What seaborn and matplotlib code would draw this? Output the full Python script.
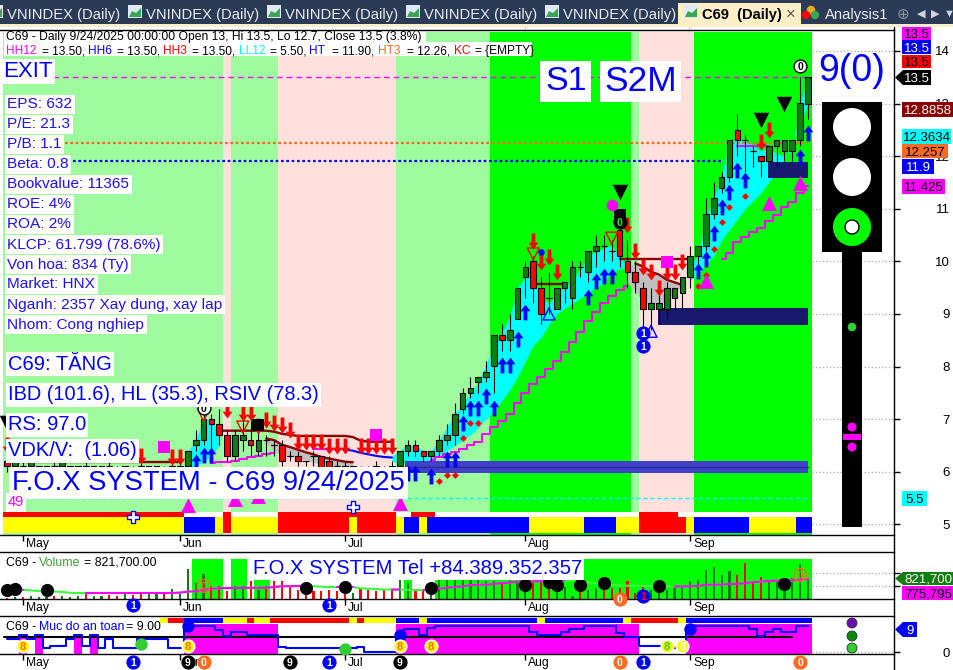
import numpy as np
import matplotlib
matplotlib.use("Agg")
import matplotlib.pyplot as plt
import seaborn as sns
from matplotlib.patches import Rectangle, Circle, Polygon
from matplotlib.path import Path
from matplotlib.transforms import ScaledTranslation

W, H = 954, 670
AXIS_X = 894
BAR0, BAR_STEP = 7.3, 7.85

GREEN = "#00ff00"
LIGHT = "#9efb9e"
PINK = "#ffe0dc"
CANDLE_UP = "#0f7d0f"
BLUE = "#0000ff"
RED = "#ff0000"
MAGENTA = "#ff00ff"
CYAN = "#00ffff"
YELLOW = "#ffff00"
DARKRED = "#8b0000"
NAVY = "#191970"
ORANGE = "#ff6a20"
COLORS = {"Y": YELLOW, "B": BLUE, "R": RED, "W": "#ffffff"}

# daily prices, bars 0-102
opens = [6.2, 6.1, 6.1, 6.1, 6.0, 6.0, 6.1, 6.1, 6.0, 6.0, 6.1, 6.0, 6.0, 6.1, 6.0, 6.0, 6.0, 6.1, 6.0, 6.0,
         6.0, 5.9, 6.0, 6.1, 6.5, 6.6, 7.0, 6.9, 6.7, 6.3, 6.6, 6.6, 6.4, 6.6, 6.5, 6.5, 6.3, 6.3, 6.2, 6.3,
         6.3, 6.2, 6.1, 6.1, 6.0, 6.0, 6.0, 6.1, 6.0, 6.1, 6.1, 6.4, 6.5, 6.4, 6.3, 6.4, 6.6, 6.7, 7.2, 7.5,
         7.7, 7.8, 8.0, 8.6, 8.5, 8.9, 9.7, 10.0, 9.5, 9.3, 9.1, 9.5, 9.3, 9.9, 9.8, 10.2, 10.3, 10.2, 10.6, 10.0,
         9.8, 9.5, 9.1, 9.1, 9.1, 9.3, 9.4, 9.7, 10.1, 10.3, 10.9, 11.4, 11.6, 12.5, 12.3, 12.1, 12.0, 11.9, 12.2, 12.1,
         12.1, 12.3, 13.0]
highs = [6.2, 6.2, 6.2, 6.2, 6.1, 6.1, 6.2, 6.2, 6.1, 6.1, 6.2, 6.1, 6.1, 6.2, 6.1, 6.1, 6.1, 6.2, 6.1, 6.1,
         6.1, 6.2, 6.2, 6.4, 6.8, 7.3, 7.1, 7.2, 6.8, 6.8, 7.1, 7.0, 6.8, 6.7, 6.6, 6.6, 6.4, 6.4, 6.2, 6.4,
         6.3, 6.3, 6.2, 6.2, 6.1, 6.1, 6.1, 6.2, 6.1, 6.2, 6.4, 6.6, 6.6, 6.4, 6.4, 6.7, 6.9, 7.3, 7.6, 7.8,
         7.8, 8.1, 8.6, 8.8, 9.0, 9.5, 10.0, 10.1, 9.7, 9.8, 9.5, 9.6, 10.0, 10.0, 10.2, 10.5, 10.5, 10.4, 10.9, 10.4,
         10.0, 9.6, 9.5, 9.5, 9.6, 9.5, 9.7, 10.3, 10.3, 11.2, 11.5, 11.7, 12.3, 12.8, 12.4, 12.2, 12.0, 12.2, 12.3, 12.3,
         12.3, 13.5, 13.5]
lows = [6.0, 6.0, 6.0, 6.0, 5.9, 5.9, 6.0, 6.0, 5.9, 5.9, 6.0, 5.9, 5.9, 6.0, 5.9, 5.9, 5.9, 6.0, 5.9, 5.9,
        5.9, 5.8, 5.9, 6.0, 6.4, 6.5, 6.4, 6.5, 6.2, 6.2, 6.4, 6.3, 6.3, 6.3, 6.3, 6.1, 6.2, 6.1, 6.1, 6.1,
        5.9, 5.9, 5.9, 5.9, 5.9, 5.9, 5.9, 5.9, 5.9, 6.0, 6.0, 6.3, 6.3, 6.2, 6.2, 6.3, 6.5, 6.5, 7.1, 7.4,
        7.5, 7.7, 7.5, 8.3, 8.3, 8.9, 9.3, 9.2, 8.8, 9.0, 9.1, 9.2, 9.1, 9.7, 9.6, 9.9, 10.0, 10.0, 9.9, 9.5,
        9.4, 8.7, 8.7, 8.8, 8.9, 9.1, 9.1, 9.5, 9.9, 10.2, 10.8, 11.3, 11.5, 12.0, 11.7, 11.8, 11.6, 11.9, 11.8, 11.9,
        11.9, 12.2, 12.7]
closes = [6.1, 6.2, 6.1, 6.2, 6.1, 6.1, 6.1, 6.2, 6.1, 6.1, 6.1, 6.1, 6.1, 6.1, 6.0, 6.1, 6.0, 6.1, 6.1, 6.1,
          6.0, 6.1, 6.1, 6.4, 6.6, 7.0, 6.9, 6.7, 6.3, 6.7, 6.7, 6.5, 6.6, 6.6, 6.5, 6.2, 6.3, 6.2, 6.2, 6.3,
          6.0, 6.0, 6.1, 6.0, 6.1, 6.0, 6.0, 6.0, 6.0, 6.0, 6.4, 6.5, 6.4, 6.3, 6.4, 6.6, 6.7, 7.1, 7.5, 7.6,
          7.8, 7.9, 8.6, 8.5, 8.7, 9.5, 9.9, 9.5, 9.0, 9.3, 9.5, 9.6, 9.9, 9.9, 10.2, 10.3, 10.3, 10.2, 10.1, 9.8,
          9.6, 9.1, 9.2, 9.2, 9.5, 9.5, 9.7, 10.1, 10.3, 10.9, 11.2, 11.6, 12.3, 12.3, 12.3, 12.1, 11.9, 12.2, 12.3, 12.3,
          12.3, 13.0, 13.5]

# volume in thousands
volume = [40, 70, 60, 120, 90, 60, 100, 130, 80, 130, 230, 120, 100, 150, 130, 230, 170, 180, 200, 230,
          290, 400, 200, 1190, 620, 990, 500, 500, 300, 500, 500, 690, 360, 500, 690, 690, 500, 360, 300, 300,
          300, 360, 300, 230, 230, 390, 360, 300, 360, 360, 750, 620, 360, 300, 170, 900, 800, 950, 850, 800,
          800, 690, 690, 620, 750, 620, 300, 690, 880, 430, 300, 470, 100, 300, 360, 430, 360, 430, 430, 690,
          230, 560, 360, 430, 340, 430, 430, 715, 730, 1120, 1250, 950, 1080, 950, 1400, 690, 880, 750, 750, 470,
          820, 1380, 822]
volume_ma = [360, 360, 360, 340, 310, 290, 290, 280, 240, 235, 235, 235, 235, 235, 235, 235, 235, 235, 235, 235,
             235, 235, 250, 290, 300, 360, 400, 420, 430, 430, 440, 440, 440, 440, 470, 500, 500, 510, 510, 500,
             480, 470, 470, 470, 470, 420, 400, 390, 370, 370, 370, 360, 350, 350, 350, 400, 440, 470, 500, 540,
             560, 560, 590, 620, 640, 680, 680, 690, 700, 700, 720, 740, 720, 680, 650, 620, 580, 560, 530, 520,
             520, 510, 500, 500, 490, 490, 490, 500, 510, 560, 560, 570, 590, 590, 620, 660, 680, 700, 720, 720,
             730, 750, 776]
safety = [4.4, 4.4, 5.9, 4.4, 5.9, 1.4, 2.3, 2.3, 4.4, 5.9, 2.3, 5.9, 1.4, 4.4, 1.4, 1.4, 1.4, 4.4, 4.4, 4.4,
          4.4, 1.4, 1.4, 9, 9, 9, 9, 7.6, 5.6, 7, 7, 5.9, 5.9, 5.9, 5.9, 1.9, 1.4, 1.4, 1.4, 1.4,
          1.4, 1.4, 1.4, 1.4, 1.4, 1.9, 0.2, 0.2, 0.2, 0.2, 5.9, 7.8, 7.8, 5.9, 8.2, 9, 9, 9, 9, 9,
          9, 9, 9, 9, 9, 9, 9, 7, 5.9, 5.9, 5.9, 7, 7.8, 7.8, 9, 9, 9, 9, 6.7, 5.3,
          5.3, 2.2, 2.2, 2.2, 1.3, 1.3, 1.3, 8.8, 9, 9, 9, 9, 9, 9, 9, 7.8, 5.6, 7, 7.8, 7,
          7, 9, 9]

# background zones and state strips, as (state, number of bars)
zone_runs = [(LIGHT, 28), (PINK, 1), (LIGHT, 6), (PINK, 15), (LIGHT, 12), (GREEN, 18), (LIGHT, 1), (PINK, 7), (GREEN, 15)]
band_top_runs = [("R", 23), ("W", 5), ("R", 1), ("W", 6), ("R", 15), ("W", 2), ("R", 3), ("W", 26), ("R", 5), ("W", 17)]
band_main_runs = [("Y", 23), ("B", 4), ("Y", 1), ("R", 1), ("Y", 6), ("R", 9), ("Y", 1), ("R", 5), ("Y", 1), ("B", 2),
                  ("Y", 1), ("B", 13), ("Y", 7), ("B", 4), ("Y", 3), ("R", 6), ("Y", 1), ("B", 7), ("Y", 6), ("B", 2)]
safety_strip_runs = [("W", 20), ("Y", 1), ("R", 2), ("B", 5), ("Y", 3), ("R", 1), ("Y", 2), ("R", 10), ("Y", 1), ("R", 1),
                     ("Y", 4), ("B", 3), ("Y", 1), ("B", 14), ("Y", 1), ("B", 10), ("Y", 1), ("R", 6), ("Y", 1), ("B", 16)]
volume_zone_bars = [24, 25, 26, 27, 29, 30, 32, 33, 51] + list(range(55, 103))
safety_zone_bars = [2, 4, 9, 11] + list(range(23, 35)) + list(range(50, 81)) + list(range(87, 103))

# cloud around the price
cloud_a_bars = [23, 24, 25, 26, 27]
cloud_a_up = [6.4, 6.6, 7.0, 7.0, 6.7]
cloud_a_lo = [6.05, 6.1, 6.2, 6.3, 6.5]
cloud_c_bars = list(range(49, 80))
cloud_c_up = [6.3, 6.4, 6.5, 6.5, 6.4, 6.4, 6.6, 6.85, 7.1, 7.3, 7.5, 7.7, 8.05, 8.4, 8.65, 8.95, 9.5, 9.7, 9.75, 9.3, 9.2,
              9.4, 9.5, 9.65, 9.85, 10.1, 10.2, 10.25, 10.3, 10.1, 9.9]
cloud_c_lo = [6.2, 6.15, 6.2, 6.2, 6.2, 6.2, 6.3, 6.4, 6.5, 6.6, 6.7, 6.85, 7.0, 7.15, 7.35, 7.55, 7.8, 8.1, 8.4, 8.55, 8.8,
              9.0, 9.1, 9.2, 9.3, 9.4, 9.5, 9.6, 9.8, 9.85, 9.9]
cloud_d_bars = list(range(87, 103))
cloud_d_up = [9.9, 10.15, 10.85, 11.2, 11.65, 12.3, 12.3, 12.3, 12.2, 12.1, 12.15, 12.05, 12.0, 12.1, 13.0, 13.5]
cloud_d_lo = [9.65, 9.75, 9.95, 10.1, 10.4, 10.6, 10.8, 11.0, 11.15, 11.3, 11.5, 11.7, 11.95, 12.2, 12.6, 13.0]
gray_a_bars = list(range(33, 45))
gray_a_up = [6.63, 6.6, 6.51, 6.47, 6.42, 6.37, 6.33, 6.28, 6.25, 6.22, 6.19, 6.18]
gray_a_lo = [6.55, 6.38, 6.34, 6.3, 6.26, 6.22, 6.18, 6.14, 6.1, 6.08, 6.06, 6.05]
gray_b_bars = [79, 80, 81, 82, 83, 84, 85, 86]
gray_b_up = [9.9, 9.96, 9.9, 9.8, 9.75, 9.65, 9.6, 9.55]
gray_b_lo = [9.6, 9.45, 9.2, 9.2, 9.2, 9.25, 9.4, 9.55]

# indicator lines
stair_a_bars = list(range(26, 35))
stair_a = [6.17, 6.18, 6.19, 6.2, 6.25, 6.28, 6.3, 6.33, 6.36]
stair_b_bars = list(range(54, 80))
stair_b = [6.23, 6.28, 6.33, 6.38, 6.43, 6.5, 6.56, 6.71, 6.85, 6.97, 7.1, 7.3, 7.5, 7.66, 7.8, 7.96, 8.11, 8.28, 8.47, 8.66,
           8.87, 9.03, 9.2, 9.34, 9.45, 9.53]
stair_c_bars = list(range(91, 103))
stair_c = [10.05, 10.16, 10.37, 10.47, 10.56, 10.63, 10.77, 10.88, 11.03, 11.13, 11.3, 11.425]
magenta_short_bars = [39, 40, 41, 42, 43]
magenta_short = [6.44, 6.44, 6.44, 6.44, 6.44]
magenta_top_bars = [93, 94, 95, 96, 97]
magenta_top = [12.2, 12.2, 12.2, 12.2, 12.2]
blue_line_bars = [43, 44, 45, 46, 47, 48, 49]
blue_line = [6.42, 6.4, 6.36, 6.33, 6.3, 6.28, 6.27]
red_a_bars = list(range(1, 23))
red_a = [6.18] * 22
red_b_bars = list(range(27, 50))
red_b = [6.78, 6.78, 6.78, 6.78, 6.78, 6.78, 6.78, 6.76, 6.72, 6.7, 6.68, 6.68, 6.68, 6.68, 6.68, 6.68, 6.68, 6.66, 6.59, 6.57, 6.57, 6.57, 6.57]
red_c_bars = [33, 34, 35, 36, 37, 38, 39, 40, 41, 42, 43, 44]
red_c = [6.63, 6.6, 6.51, 6.47, 6.42, 6.37, 6.33, 6.28, 6.25, 6.22, 6.19, 6.18]
red_d_bars = [67, 68, 69, 70, 71]
red_d = [9.57, 9.57, 9.57, 9.57, 9.57]
red_e_bars = [78, 79, 80, 81, 82, 83, 84, 85, 86, 87]
red_e = [10.04] * 10
red_f_bars = [80, 81, 82, 83, 84, 85, 86]
red_f = [9.96, 9.9, 9.8, 9.75, 9.65, 9.6, 9.55]

# signal markers (bar, price)
up_bars = [24, 25, 26, 51, 52, 54, 56, 57, 58, 59, 60, 61, 62, 63, 64, 65, 66, 74, 75, 76, 77, 88, 89, 90, 91, 92, 93, 94, 101, 102]
up_prices = [6.19, 6.32, 6.32, 5.97, 5.97, 5.91, 6.25, 6.25, 6.93, 7.22, 7.22, 7.43, 7.22, 8.03, 8.03, 8.53, 9.03, 9.33, 9.63, 9.73, 9.73,
             9.82, 10.04, 10.53, 11.04, 11.32, 11.74, 11.55, 11.98, 12.43]
down_bars = [0, 17, 21, 22, 28, 30, 31, 32, 33, 34, 35, 36, 37, 38, 39, 40, 41, 42, 43, 45, 46, 47, 48, 49,
             67, 68, 69, 70, 79, 80, 81, 82, 83, 84, 85, 86, 96, 97]
down_prices = [6.5, 6.3, 6.27, 6.27, 7.17, 7.11, 7.11, 6.86, 6.98, 6.92, 6.89, 6.79, 6.57, 6.57, 6.57, 6.57, 6.48, 6.48, 6.48, 6.48, 6.48, 6.48, 6.48, 6.48,
               10.39, 9.99, 10.09, 9.8, 10.69, 10.2, 9.9, 9.8, 9.49, 9.8, 9.8, 9.99, 12.27, 12.5]
diamond_bars = [55, 56, 57, 58, 59, 60, 88, 89, 90, 91, 92, 94]
diamond_prices = [5.82, 5.94, 5.94, 6.65, 6.93, 6.93, 9.53, 9.74, 10.23, 10.75, 11.04, 11.24]
mag_tri_bars = [23, 29, 32, 50, 89, 97, 101]
mag_tri_prices = [5.37, 5.48, 5.54, 5.4, 9.63, 11.11, 11.49]
black_tri_bars = [0, 78, 96, 99]
black_tri_prices = [6.93, 11.32, 12.69, 12.99]
open_down_bars = [25, 30, 67, 77]
open_down_prices = [7.08, 6.85, 10.14, 10.44]
open_up_bars = [69, 82]
open_up_prices = [9.0, 8.67]
square_bars = [20, 47, 84]
square_prices = [6.47, 6.7, 9.99]
black_square_bars = [32, 78]
black_square_prices = [6.89, 10.88]
flake_bars = [16, 44]
flake_prices = [5.14, 5.33]

# support / resistance blocks: first bar, last bar, low, high
block_start = [50.7, 82.9, 96.9]
block_end = [102.0, 102.0, 102.0]
block_low = [5.98, 8.79, 11.58]
block_high = [6.2, 9.11, 11.89]
block_color = ["#4040c8", NAVY, NAVY]

vol_dot_bars = [0, 1, 5, 38, 43, 54, 66, 69, 70, 73, 76, 83, 99]
vol_dot_values = [340, 390, 360, 430, 470, 430, 560, 660, 560, 560, 620, 490, 590]

month_bars = [2, 22, 43, 66, 87]
month_names = ["May", "Jun", "Jul", "Aug", "Sep"]
price_ticks = [5, 6, 7, 8, 9, 10, 11, 12, 13, 14]
volume_ticks = [500, 1000]
info_lines = ["EPS: 632", "P/E: 21.3", "P/B: 1.1", "Beta: 0.8", "Bookvalue: 11365", "ROE: 4%", "ROA: 2%",
              "KLCP: 61.799 (78.6%)", "Von hoa: 834 (Ty)", "Market: HNX", "Nganh: 2357 Xay dung, xay lap", "Nhom: Cong nghiep"]
tab_x = [128, 267, 406, 545]


def runs(pairs):
    return [k for k, n in pairs for _ in range(n)]


def px_axes(fig, x0, y0, x1, y1, **kw):
    return fig.add_axes([x0 / W, 1 - y1 / H, (x1 - x0) / W, (y1 - y0) / H], **kw)


def bar_x(px):
    return (px - BAR0) / BAR_STEP


def price_y(px):
    return 5 + (524.3 - px) / 52.6


def line(ax, xs, ys, color, lw=1.5, **kw):
    sns.lineplot(x=xs, y=ys, color=color, lw=lw, ax=ax, estimator=None, sort=False, legend=False, **kw)


def marks(ax, xs, ys, marker, size, color, zorder=6, **kw):
    kw.setdefault("linewidth", 0)
    sns.scatterplot(x=xs, y=ys, marker=marker, s=size, color=color, ax=ax, legend=False, zorder=zorder, **kw)


def badge(ax, x, y, txt, fc, tc="white", ec=None, size=7.5):
    ax.scatter([x], [y], s=85, facecolors=fc, edgecolors=ec or fc, linewidth=1, zorder=8, clip_on=False)
    ax.text(x, y, txt, color=tc, fontsize=size, fontweight="bold", ha="center", va="center_baseline", zorder=9, clip_on=False)


def style_axes(ax, ylim, yticks, labels):
    ax.set_xlim(bar_x(0), bar_x(AXIS_X))
    ax.set_ylim(*ylim)
    ax.set_xlabel("")
    ax.set_ylabel("")
    ax.set_xticks(month_bars, month_names)
    ax.tick_params(axis="x", length=4, width=1, pad=-2, labelsize=8.7, colors="black", bottom=True)
    for lab in ax.get_xticklabels():
        lab.set_ha("left")
        lab.set_transform(lab.get_transform() + ScaledTranslation(2 / 72, 0, ax.figure.dpi_scale_trans))
    ax.yaxis.tick_right()
    ax.set_yticks(yticks, labels)
    ax.tick_params(axis="y", length=4, width=1, pad=36, labelsize=9.5, colors="black", right=True)
    for lab in ax.get_yticklabels():
        lab.set_ha("right")
    for name, sp in ax.spines.items():
        sp.set_visible(name in ("top", "bottom"))
        sp.set_color("black")
        sp.set_linewidth(1)
    ax.patch.set_alpha(0)
    ax.hlines(yticks, bar_x(812), bar_x(AXIS_X), color="#b5b5b5", lw=1, ls=(0, (1, 1.5)), zorder=1)


sns.set_theme(style="white")
plt.rcParams["font.family"] = ["Liberation Sans", "DejaVu Sans"]

fig = plt.figure(figsize=(W / 100, H / 100), dpi=100, facecolor="white")
bars = np.arange(len(closes))
opens_a, highs_a, lows_a, closes_a = map(np.array, (opens, highs, lows, closes))
rising = closes_a > opens_a

# ---- price panel
ax = px_axes(fig, 0, 30, AXIS_X, 535)
ylim = (price_y(535), price_y(30))
top_zone, left = price_y(32), -0.5
for colr, n in zone_runs:
    ax.fill_between([left, left + n], ylim[0], top_zone, color=colr, lw=0, zorder=0)
    left += n

for bs, up, lo, colr in [(cloud_a_bars, cloud_a_up, cloud_a_lo, CYAN), (cloud_c_bars, cloud_c_up, cloud_c_lo, CYAN),
                         (cloud_d_bars, cloud_d_up, cloud_d_lo, CYAN), (gray_a_bars, gray_a_up, gray_a_lo, "#c0c0c0"),
                         (gray_b_bars, gray_b_up, gray_b_lo, "#c0c0c0")]:
    ax.fill_between(bs, lo, up, color=colr, lw=0, zorder=1)

for s, e, lo, hi, colr in zip(block_start, block_end, block_low, block_high, block_color):
    ax.fill_between([s, e], lo, hi, color=colr, lw=0, zorder=5)
line(ax, [block_start[0], block_end[0]], [6.09, 6.09], "#2a2a9a", 1, zorder=5)

ax.hlines(13.5, bar_x(53), 102, color=MAGENTA, lw=1, ls=(0, (4, 3)), zorder=2)
ax.hlines(12.257, bar_x(65), 102, color=ORANGE, lw=1.6, ls=(0, (1.2, 1.2)), zorder=2)
ax.hlines(11.9, bar_x(73), 91, color=BLUE, lw=1.6, ls=(0, (1.2, 1.2)), zorder=2)
ax.hlines(5.5, bar_x(25), 102, color=CYAN, lw=1, ls=(0, (3, 2)), zorder=2)

for bs, ys in [(stair_a_bars, stair_a), (stair_b_bars, stair_b), (stair_c_bars, stair_c)]:
    line(ax, bs, ys, MAGENTA, 1.5, drawstyle="steps-mid", zorder=3)
line(ax, magenta_short_bars, magenta_short, MAGENTA, 1.5, zorder=3)
line(ax, magenta_top_bars, magenta_top, MAGENTA, 1.5, zorder=3)
line(ax, blue_line_bars, blue_line, BLUE, 1.5, zorder=3)
for bs, ys in [(red_a_bars, red_a), (red_b_bars, red_b), (red_c_bars, red_c), (red_d_bars, red_d), (red_e_bars, red_e), (red_f_bars, red_f)]:
    line(ax, bs, ys, DARKRED, 1.7, zorder=4)

body_low = np.minimum(opens_a, closes_a)
body_h = np.abs(opens_a - closes_a)
ax.vlines(bars, lows_a, highs_a, color="black", lw=0.8, zorder=5)
ax.bar(bars, body_h, bottom=body_low, width=0.72, color=[CANDLE_UP if r else RED for r in rising],
       edgecolor="black", lw=0.8, zorder=5.5)
doji = body_h == 0
ax.hlines(opens_a[doji], bars[doji] - 0.4, bars[doji] + 0.4, color="black", lw=0.8, zorder=5.5)

top_band = runs(band_top_runs)
main_band = runs(band_main_runs)
ax.bar(bars, price_y(517) - price_y(512), bottom=price_y(512), width=1.02, lw=0, color=[COLORS[k] for k in top_band], zorder=5)
ax.bar(bars, price_y(533) - price_y(517), bottom=price_y(517), width=1.02, lw=0, color=[COLORS[k] for k in main_band], zorder=5)

arrow_up = Path([(0, 1), (0.62, 0.15), (0.24, 0.15), (0.24, -1), (-0.24, -1), (-0.24, 0.15), (-0.62, 0.15), (0, 1)], closed=True)
arrow_down = Path([(0, -1), (0.62, -0.15), (0.24, -0.15), (0.24, 1), (-0.24, 1), (-0.24, -0.15), (-0.62, -0.15), (0, -1)], closed=True)
marks(ax, up_bars, up_prices, arrow_up, 130, BLUE)
marks(ax, down_bars, down_prices, arrow_down, 130, RED)
marks(ax, diamond_bars, diamond_prices, "D", 12, RED)
marks(ax, mag_tri_bars, mag_tri_prices, "^", 115, MAGENTA)
marks(ax, black_tri_bars, black_tri_prices, "v", 125, "black")
marks(ax, open_down_bars, open_down_prices, "v", 75, RED, facecolors="none", edgecolor=RED, linewidth=1)
marks(ax, open_up_bars, open_up_prices, "^", 75, BLUE, facecolors="none", edgecolor=BLUE, linewidth=1)
marks(ax, square_bars, square_prices, "s", 85, MAGENTA)
marks(ax, black_square_bars, black_square_prices, "s", 85, "black")
marks(ax, [77], [11.07], "o", 70, MAGENTA)
marks(ax, [68], [10.18], "o", 22, BLUE)
marks(ax, flake_bars, flake_prices, "P", 70, "white", edgecolor=BLUE, linewidth=1)
badge(ax, 101, 13.71, "0", "white", "black", ec="black")
badge(ax, 81, 8.64, "1", BLUE)
badge(ax, 81, 8.39, "1", BLUE)
badge(ax, 25, 7.21, "0", "white", "black", ec="black")
badge(ax, 78, 10.75, "0", "black", GREEN)
style_axes(ax, ylim, price_ticks, [str(t) for t in price_ticks])

# ---- volume panel
ax2 = px_axes(fig, 0, 552, AXIS_X, 599)
vol_top = (599 - 552) * 39.13
ax2.bar(volume_zone_bars, vol_top - 7 * 39.13, width=1.02, lw=0, color=GREEN, zorder=0)
sns.barplot(x=bars, y=volume, hue=np.where(rising, "up", "down"), palette={"up": CANDLE_UP, "down": RED}, native_scale=True,
            dodge=False, width=0.28, errorbar=None, legend=False, saturation=1, linewidth=0, ax=ax2, zorder=2)
ma = np.array(volume_ma, dtype=float)
ax2.plot(bars, ma, color="#3cff3c", lw=1.5, zorder=3)
ma_up = ma.copy()
ma_up[1:][ma[1:] < ma[:-1]] = np.nan
ax2.plot(bars, ma_up, color=MAGENTA, lw=1.5, zorder=3.5)
marks(ax2, vol_dot_bars, vol_dot_values, "o", 90, "black", zorder=5)
badge(ax2, 25, 510, "0", "none", ORANGE, ec=ORANGE)
badge(ax2, 78, 0, "0", ORANGE, "white")
badge(ax2, 81, 117, "1", BLUE, RED)
badge(ax2, 101, 940, "0", "none", ORANGE, ec=ORANGE)
badge(ax2, 16, -234, "1", BLUE)
badge(ax2, 41, -234, "1", BLUE)
style_axes(ax2, (0, vol_top), volume_ticks, ["", ""])

# ---- safety panel
ax3 = px_axes(fig, 0, 616, AXIS_X, 654)


def safety_y(px):
    return (652.3 - px) / 2.93


low3, high3 = safety_y(654), safety_y(616)
ax3.bar(safety_zone_bars, safety_y(624) - low3, bottom=low3, width=1.02, lw=0, color=MAGENTA, zorder=0)
strip = runs(safety_strip_runs)
ax3.bar(bars, safety_y(618) - safety_y(623), bottom=safety_y(623), width=1.02, lw=0, color=[COLORS[k] for k in strip], zorder=1)
line(ax3, [bar_x(4), 100], [5.2, 5.2], "black", 1.5, zorder=2)
line(ax3, bars, safety, BLUE, 1.5, drawstyle="steps-mid", zorder=3)
marks(ax3, [23, 50, 87], [9, 5.9, 7.8], "o", 80, BLUE, zorder=5)
marks(ax3, [17, 43], [2.9, 1.1], "o", 80, "#32cd32", zorder=5)
for b in [2, 23, 50, 54, 84]:
    badge(ax3, b, 2.2, "8", YELLOW, ORANGE if b != 84 else "#32cd32", ec="white", size=8)
badge(ax3, 86, 2.2, "8", YELLOW, "white", ec="white", size=8)
for b, txt, colr, tc in [(16, "1", BLUE, "white"), (41, "1", BLUE, "white"), (23, "9", "black", "white"), (36, "9", "black", "white"),
                         (50, "9", "black", "white"), (25, "0", ORANGE, "white"), (78, "0", ORANGE, "white"),
                         (81, "1", BLUE, "white"), (101, "0", ORANGE, "white")]:
    badge(ax3, b, safety_y(662), txt, colr, tc)
style_axes(ax3, (low3, high3), [0], ["0"])

# ---- window chrome and text, in pixel coordinates
ov = fig.add_axes([0, 0, 1, 1], zorder=10)
ov.set_xlim(0, W)
ov.set_ylim(H, 0)
ov.axis("off")
ov.patch.set_alpha(0)


def rect(x0, y0, x1, y1, fc, z=1, **kw):
    ov.add_patch(Rectangle((x0, y0), x1 - x0, y1 - y0, fc=fc, ec="none", zorder=z, **kw))


def label(x, y, s, size, color="black", ha="left", box=False, z=3, pad=1.6, **kw):
    if box:
        kw["bbox"] = dict(fc="white", ec="none", pad=pad)
    ov.text(x, y, s, fontsize=size, color=color, ha=ha, va="center_baseline", zorder=z, **kw)


def tag(x0, x1, y0, y1, s, fc, tc="black", arrow=False):
    if arrow:
        ym = (y0 + y1) / 2
        ov.add_patch(Polygon([(895, ym), (x0, y0), (x1, y0), (x1, y1), (x0, y1)], fc=fc, ec="none", zorder=4))
    else:
        rect(x0, y0, x1, y1, fc, z=4)
    ov.text((x0 + x1) / 2, (y0 + y1) / 2, s, color=tc, fontsize=9.5, ha="center", va="center_baseline", zorder=5)


def tab_icon(x):
    rect(x, 5, x + 14, 18, "#dfe9f5", z=2, clip_on=True)
    ov.add_patch(Polygon([(x + 1, 17), (x + 4, 11), (x + 8, 13), (x + 13, 8), (x + 13, 17)], fc="#3aa655", ec="none", zorder=3))


rect(0, 0, W, 24, "#2b3a55")
rect(0, 24, W, 27, "#fcefc7")
tab_icon(-11)
label(7, 13.5, "VNINDEX (Daily)", 10.6, "#e8ecf3")
for x in tab_x:
    tab_icon(x)
    label(x + 18, 13.5, "VNINDEX (Daily)", 10.6, "#e8ecf3")
rect(678, 3, 801, 26, "#fcefc7")
tab_icon(684)
label(702, 13.5, "C69  (Daily)", 10.6, "black", fontweight="bold")
label(791, 13, "×", 12, "#555555", ha="center")
ov.scatter([811, 806, 815], [10, 15, 15], s=26, c=["#e8b020", RED, "#3aa655"], zorder=3)
label(825, 13.5, "Analysis1", 10.6, "#e8ecf3")
label(903, 13, "⊕", 11, "#8c96a8", ha="center")
label(921, 13, "◀", 8, "#cfd6e2", ha="center")
label(935, 13, "▶", 8, "#cfd6e2", ha="center")
label(949, 13, "▼", 8, "#cfd6e2", ha="center")

ov.plot([AXIS_X, AXIS_X], [27, H], color="black", lw=1, zorder=3)
for x in [525, 689]:
    ov.plot([x, x], [27, 32], color="#b5b5b5", lw=1, ls=(0, (1, 1.5)), zorder=2)
rect(4, 32, 426, 42, "white", z=2)
rect(4, 42, 532, 56, "white", z=2)
label(6, 35.5, "C69 - Daily 9/24/2025 00:00:00 Open 13, Hi 13.5, Lo 12.7, Close 13.5 (3.8%)", 8.7)
for x, s, c in [(6, "HH12", MAGENTA), (42, "= 13.50,", "black"), (88, "HH6", BLUE), (117, "= 13.50,", "black"), (163, "HH3", RED),
                (192, "= 13.50,", "black"), (239, "LL12", CYAN), (270, "= 5.50,", "black"), (309, "HT", BLUE), (332, "= 11.90,", "black"),
                (378, "HT3", ORANGE), (407, "= 12.26,", "black"), (454, "KC", RED), (475, "= {EMPTY}", "black")]:
    label(x, 49.5, s, 8.6, c)

label(3, 69, "EXIT", 16, BLUE, box=True)
for i, s in enumerate(info_lines):
    label(7.5, 103 + 20 * i, s, 11.1, "#2010ff", box=True)
label(8, 362, "C69: TĂNG", 14.5, BLUE, box=True)
label(8, 393, "IBD (101.6), HL (35.3), RSIV (78.3)", 14.4, BLUE, box=True)
label(8, 423, "RS: 97.0", 14.5, BLUE, box=True)
label(8, 449, "VDK/V:  (1.06)", 14.5, BLUE, box=True)
label(12, 480, "F.O.X SYSTEM - C69 9/24/2025", 19.7, BLUE, box=True, pad=2.4)
label(8, 501, "49", 10.5, MAGENTA, box=True)
label(545, 78, "S1", 24.5, BLUE, box=True, pad=3.5)
label(604, 78, "S2M", 25.5, BLUE, box=True, pad=3)
label(818, 67, "9(0)", 27, BLUE)
label(253, 566, "F.O.X SYSTEM Tel +84.389.352.357", 14.6, BLUE, box=True)
label(6, 561, "C69 -", 8.9)
label(39, 561, "Volume", 8.9, "#3f9a3f")
label(84, 561, "= 821,700.00", 8.9)
rect(3, 618, 160, 634, "white", z=2)
label(6, 626, "C69 -", 8.9)
label(39, 626, "Muc do an toan", 8.9, BLUE)
label(126, 626, "= 9.00", 8.9)

# traffic light
rect(842, 250, 862, 527, "black", z=2)
rect(822, 102, 882, 252, "black", z=2)
ov.add_patch(Circle((852, 127), 19, fc="white", ec="none", zorder=3))
ov.add_patch(Circle((852, 177), 19, fc="white", ec="none", zorder=3))
ov.add_patch(Circle((852, 227), 19, fc=GREEN, ec="none", zorder=3))
ov.add_patch(Circle((852, 227), 7, fc="white", ec="black", lw=1, zorder=4))
ov.add_patch(Circle((852, 327), 4.3, fc="#32cd32", ec="none", zorder=3))
ov.add_patch(Circle((852, 427), 4.5, fc=MAGENTA, ec="none", zorder=3))
rect(843, 434, 861, 440, MAGENTA, z=3)
ov.add_patch(Circle((852, 447), 4.5, fc=MAGENTA, ec="none", zorder=3))
for y, c in [(623, "#6a0dad"), (636, "#0a8a0a"), (648, "#32cd32")]:
    ov.add_patch(Circle((852, y), 5, fc=c, ec="#303030", lw=0.6, zorder=3))

# value tags on the scale
tag(902, 931, 27, 40, "13.5", MAGENTA)
tag(902, 931, 40, 54, "13.5", BLUE, "white")
tag(902, 931, 55, 68, "13.5", RED)
tag(903, 931, 70, 85, "13.5", "black", "white", arrow=True)
tag(902, 954, 102, 117, "12.8858", DARKRED, "white")
tag(902, 951, 129, 144, "12.3634", CYAN)
tag(902, 948, 144, 158, "12.257", ORANGE)
tag(902, 934, 159, 174, "11.9", BLUE, "white")
tag(902, 945, 179, 194, "11.425", MAGENTA)
tag(902, 927, 491, 506, "5.5", CYAN)
tag(903, 954, 572, 585, "821,700", CANDLE_UP, "white", arrow=True)
tag(902, 954, 586, 600, "775,795", MAGENTA)
tag(903, 917, 622, 637, "9", BLUE, "white", arrow=True)

fig.savefig("out.png", dpi=100)
